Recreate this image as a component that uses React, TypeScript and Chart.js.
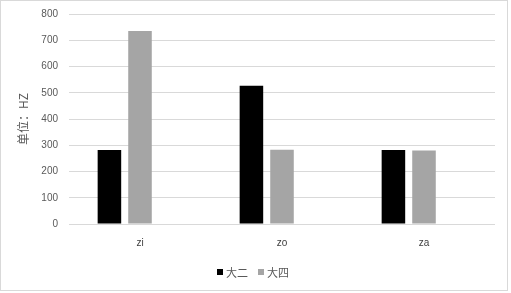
import React, { useEffect, useRef } from "react";
import { Chart, registerables } from "chart.js";

Chart.register(...registerables);

const categories = ["zi", "zo", "za"];
const seriesNames = ["大二", "大四", ""];
const seriesColors = ["#000000", "#a5a5a5", "#ffffff"];
const sophomore = [282, 527, 282];
const senior = [735, 283, 280];
const emptySeries = [null, null, null];
const yTicks = [0, 100, 200, 300, 400, 500, 600, 700, 800];

const borderPlugin = {
  id: "outerBorder",
  beforeDraw(chart: any) {
    const ctx = chart.ctx;
    ctx.save();
    ctx.fillStyle = "#ffffff";
    ctx.fillRect(0, 0, chart.width, chart.height);
    ctx.strokeStyle = "#d9d9d9";
    ctx.lineWidth = 1;
    ctx.strokeRect(0.5, 0.5, 507, 290);
    ctx.restore();
  },
};

const legendPlugin = {
  id: "compactLegend",
  afterDraw(chart: any) {
    const ctx = chart.ctx;
    const items = chart.data.datasets.filter((d: any) => d.label !== "");
    ctx.save();
    ctx.font = "11px 'Noto Sans CJK SC', sans-serif";
    const box = 6;
    const gap = 3;
    const itemGap = 10;
    const widths = items.map((d: any) => box + gap + ctx.measureText(d.label).width);
    const total = widths.reduce((a: number, b: number) => a + b, 0) + itemGap * (items.length - 1);
    const cy = 272;
    let x = 253 - total / 2;
    ctx.textBaseline = "middle";
    ctx.textAlign = "left";
    items.forEach((d: any, i: number) => {
      ctx.fillStyle = d.backgroundColor;
      ctx.fillRect(Math.round(x), cy - 3, box, box);
      ctx.fillStyle = "#595959";
      ctx.fillText(d.label, x + box + gap, cy + 1);
      x += widths[i] + itemGap;
    });
    ctx.restore();
  },
};

export default function App() {
  const ref = useRef<HTMLCanvasElement | null>(null);
  useEffect(() => {
    if (!ref.current) return;
    const common = { borderWidth: 0, categoryPercentage: 0.646, barPercentage: 0.77 };
    const chart = new Chart(ref.current, {
      type: "bar",
      data: {
        labels: categories,
        datasets: [
          { label: seriesNames[0], data: sophomore, backgroundColor: seriesColors[0], ...common },
          { label: seriesNames[1], data: senior, backgroundColor: seriesColors[1], ...common },
          { label: seriesNames[2], data: emptySeries, backgroundColor: seriesColors[2], ...common },
        ],
      },
      options: {
        animation: false,
        responsive: false,
        devicePixelRatio: 1,
        layout: { padding: { top: 14, right: 16, left: 0, bottom: 36 } },
        plugins: {
          tooltip: { enabled: false },
          legend: { display: false },
        },
        scales: {
          x: {
            grid: { display: false, drawTicks: false },
            border: { display: false },
            ticks: {
              color: "#404040",
              padding: 13,
              font: { family: "'Liberation Sans', Arial, sans-serif", size: 10 },
            },
            afterFit(scale: any) {
              scale.height = 33;
            },
          },
          y: {
            min: 0,
            max: 800,
            afterBuildTicks(scale: any) {
              scale.ticks = yTicks.map((v) => ({ value: v }));
            },
            grid: { color: "#d9d9d9", drawTicks: false },
            border: { display: false },
            ticks: {
              color: "#595959",
              padding: 11,
              font: { family: "'Liberation Sans', Arial, sans-serif", size: 10 },
            },
            title: {
              display: true,
              text: "单位：HZ",
              color: "#595959",
              padding: { top: 16, bottom: 0 },
              font: { family: "'Noto Sans CJK SC', sans-serif", size: 12 },
            },
            afterFit(scale: any) {
              scale.width = 69;
              scale.paddingTop = 6;
              scale.paddingBottom = 6;
            },
          },
        },
      },
      plugins: [borderPlugin, legendPlugin],
    } as any);
    return () => chart.destroy();
  }, []);
  return (
    <div style={{ position: "fixed", left: 0, top: 0, width: 511, height: 293 }}>
      <canvas ref={ref} width={511} height={293} style={{ display: "block" }} />
    </div>
  );
}
